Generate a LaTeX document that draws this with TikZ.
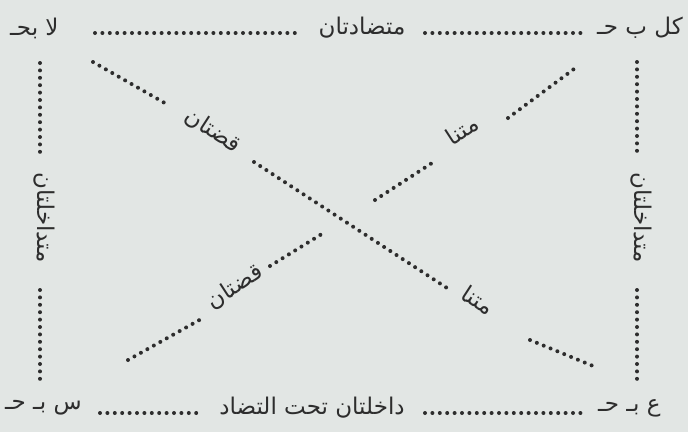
\documentclass[tikz,border=0pt]{standalone}
\usepackage{fontspec}
\newfontfamily\arabicfont[Script=Arabic]{DejaVu Sans}
\TeXXeTstate=1
\definecolor{paper}{RGB}{226,230,228}
\definecolor{ink}{RGB}{45,45,45}
\begin{document}
\begin{tikzpicture}[x=1pt,y=1pt,
  lbl/.style={inner sep=0pt, text=ink, font=\arabicfont\fontsize{23}{26}\selectfont},
  dots/.style={draw=ink, line width=4pt, line cap=round, dash pattern=on 0pt off 7.4pt}]
\fill[paper] (0,0) rectangle (688,-432);
\useasboundingbox (0,0) rectangle (688,-432);
% corners
\node[lbl, anchor=west] (tr) at (597,-28) {\beginR كل ب حـ\endR};
\node[lbl, anchor=west] (tl) at (10,-28) {\beginR لا بحـ\endR};
\node[lbl, anchor=east] (bl) at (82,-408) {\beginR س بـ حـ\endR};
\node[lbl, anchor=west] (br) at (598,-408) {\beginR ع بـ حـ\endR};
% top / bottom labels
\node[lbl] (top) at (362,-28) {\beginR متضادتان\endR};
\node[lbl] (bot) at (312,-408) {\beginR داخلتان تحت التضاد\endR};
% side labels
\node[lbl, rotate=-90] (left) at (44,-218) {\beginR متداخلتان\endR};
\node[lbl, rotate=-90] (right) at (641,-218) {\beginR متداخلتان\endR};
% diagonal labels
\node[lbl, rotate=-33] (d1a) at (213,-131) {\beginR قضتان\endR};
\node[lbl, rotate=-33] (d1b) at (478,-300) {\beginR متنا\endR};
\node[lbl, rotate=33] (d2a) at (235,-287) {\beginR قضتان\endR};
\node[lbl, rotate=33] (d2b) at (462,-130) {\beginR متنا\endR};
% coordinates of dotted segments
\coordinate (t1) at (95,-33); \coordinate (t2) at (300,-33);
\coordinate (t3) at (425,-33); \coordinate (t4) at (585,-33);
\coordinate (b1) at (100,-413); \coordinate (b2) at (200,-413);
\coordinate (b3) at (425,-413); \coordinate (b4) at (585,-413);
\coordinate (l1) at (40,-63); \coordinate (l2) at (40,-153);
\coordinate (l3) at (40,-290); \coordinate (l4) at (40,-385);
\coordinate (r1) at (637,-62); \coordinate (r2) at (637,-153);
\coordinate (r3) at (637,-290); \coordinate (r4) at (637,-383);
\coordinate (a1) at (93,-62); \coordinate (a2) at (170,-106);
\coordinate (a3) at (254,-162); \coordinate (a4) at (447,-288);
\coordinate (a5) at (530,-340); \coordinate (a6) at (598,-368);
\coordinate (c1) at (128,-360); \coordinate (c2) at (203,-318);
\coordinate (c3) at (270,-266); \coordinate (c4) at (325,-232);
\coordinate (c5) at (375,-200); \coordinate (c6) at (432,-163);
\coordinate (c7) at (508,-118); \coordinate (c8) at (578,-66);
\foreach \p/\q in {t1/t2,t3/t4,b1/b2,b3/b4,l1/l2,l3/l4,r1/r2,r3/r4,a1/a2,a3/a4,a5/a6,c1/c2,c3/c4,c5/c6,c7/c8}
  \path[dots] (\p) -- (\q);
\end{tikzpicture}
\end{document}
